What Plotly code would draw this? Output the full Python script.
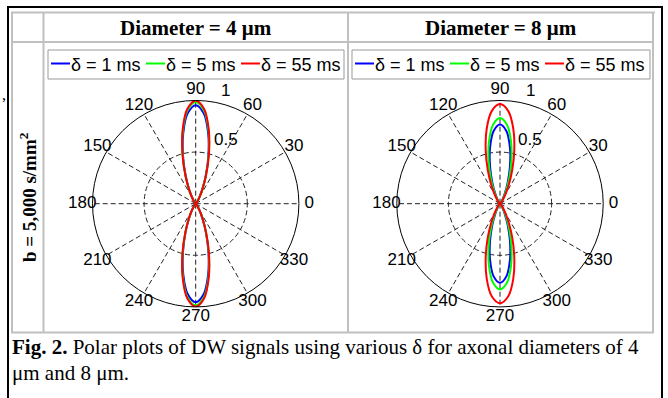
import plotly.graph_objects as go

W, H = 668, 398

def X(px):
    return px / W

def Y(py):
    return 1 - py / H

# ---------------- data ----------------
column_titles = ["Diameter = 4 μm", "Diameter = 8 μm"]
row_title = "b = 5,000 s/mm<sup>2</sup>"
series_names = ["δ = 1 ms", "δ = 5 ms", "δ = 55 ms"]
series_colors = ["#0000ff", "#00ff00", "#ff0000"]

theta_deg = list(range(0, 365, 5))          # 0 .. 360 deg, 73 samples
angular_ticks = [0, 30, 60, 90, 120, 150, 180, 210, 240, 270, 300, 330]
angular_ticktext = [str(a) for a in angular_ticks]
radial_grid = [0.5]
radial_labels = ["1", "0.5"]

# lobe values read at theta = 50, 55, ..., 130 deg (and 230 ... 310 deg)
d4_blue_lobe = [0.012, 0.030, 0.069, 0.146, 0.280, 0.473, 0.695, 0.881, 0.955,
                0.881, 0.695, 0.473, 0.280, 0.146, 0.069, 0.030, 0.012]
d4_green_lobe = [0.013, 0.031, 0.071, 0.151, 0.289, 0.488, 0.717, 0.909, 0.985,
                 0.909, 0.717, 0.488, 0.289, 0.151, 0.071, 0.031, 0.013]
d4_red_lobe = [0.013, 0.032, 0.072, 0.153, 0.293, 0.495, 0.728, 0.923, 0.998,
               0.923, 0.728, 0.495, 0.293, 0.153, 0.072, 0.032, 0.013]
d8_blue_lobe = [0.009, 0.022, 0.052, 0.111, 0.217, 0.372, 0.554, 0.707, 0.767,
                0.707, 0.554, 0.372, 0.217, 0.111, 0.052, 0.022, 0.009]
d8_green_lobe = [0.013, 0.031, 0.068, 0.139, 0.258, 0.425, 0.614, 0.769, 0.830,
                 0.769, 0.614, 0.425, 0.258, 0.139, 0.068, 0.031, 0.013]
d8_red_lobe = [0.025, 0.053, 0.107, 0.200, 0.345, 0.535, 0.740, 0.903, 0.965,
               0.903, 0.740, 0.535, 0.345, 0.200, 0.107, 0.053, 0.025]

caption_line1 = "<b>Fig. 2.</b> Polar plots of DW signals using various δ for axonal diameters of 4"
caption_line2 = "μm and 8 μm."


def full_curve(lobe):
    # zeros at 0-45, lobe 50-130, zeros 135-225, lobe 230-310, zeros 315-360
    return [0.0] * 10 + lobe + [0.0] * 19 + lobe + [0.0] * 10


sans = "Liberation Sans"
serif = "Liberation Serif"

R = 103.2          # plot radius in px
LABEL_R = 1.1      # MATLAB puts angle labels at 1.1 * rmax
centers = [(195.7, 203.7), (500.0, 203.7)]

panels = [
    ("polar", "polar3", [d4_blue_lobe, d4_green_lobe, d4_red_lobe]),
    ("polar2", "polar4", [d8_blue_lobe, d8_green_lobe, d8_red_lobe]),
]

fig = go.Figure()
for sub, labsub, lobes in panels:
    for name, color, lobe in zip(series_names, series_colors, lobes):
        fig.add_trace(go.Scatterpolar(
            r=full_curve(lobe), theta=theta_deg, mode="lines", name=name,
            line=dict(color=color, width=2, shape="spline", smoothing=1),
            subplot=sub, showlegend=False, hoverinfo="skip"))
    # angle labels, drawn on an overlaid (invisible) polar whose rim is at 1.1 * rmax
    fig.add_trace(go.Scatterpolar(
        r=[1] * len(angular_ticks), theta=angular_ticks, mode="text", text=angular_ticktext,
        textposition="middle center",
        textfont=dict(family=sans, size=17, color="black"),
        subplot=labsub, showlegend=False, cliponaxis=False, hoverinfo="skip"))


def polar_layout(cx, cy, rad):
    return dict(
        domain=dict(x=[X(cx - rad), X(cx + rad)], y=[Y(cy + rad), Y(cy - rad)]),
        bgcolor="white",
        radialaxis=dict(range=[0, 1], tickmode="array", tickvals=radial_grid,
                        showticklabels=False, ticks="", showline=False,
                        gridcolor="#222222", griddash="5px,3px", gridwidth=1),
        angularaxis=dict(rotation=0, direction="counterclockwise",
                         tickmode="array", tickvals=angular_ticks,
                         ticktext=angular_ticktext, ticks="", showticklabels=False,
                         showline=True, linecolor="black", linewidth=1,
                         gridcolor="#222222", griddash="5px,3px", gridwidth=1),
    )


def label_polar_layout(cx, cy, rad):
    return dict(
        domain=dict(x=[X(cx - rad), X(cx + rad)], y=[Y(cy + rad), Y(cy - rad)]),
        bgcolor="rgba(0,0,0,0)",
        radialaxis=dict(range=[0, 1], visible=False),
        angularaxis=dict(rotation=0, direction="counterclockwise", visible=False),
    )


shapes = []
grey = "#c0c0c0"
# outer black frame (top, left, right)
shapes.append(dict(type="line", xref="paper", yref="paper", x0=X(7), x1=X(663), y0=Y(7), y1=Y(7),
                   line=dict(color="black", width=2)))
shapes.append(dict(type="line", xref="paper", yref="paper", x0=X(8), x1=X(8), y0=Y(6), y1=Y(400),
                   line=dict(color="black", width=2)))
shapes.append(dict(type="line", xref="paper", yref="paper", x0=X(662), x1=X(662), y0=Y(6), y1=Y(400),
                   line=dict(color="black", width=2)))
# grey table grid
for (xa, ya, xb, yb) in [(11, 12.5, 655, 12.5), (12, 12, 12, 333), (653, 12, 653, 333),
                         (11, 332.5, 654, 332.5), (11, 42, 654, 42),
                         (43.5, 12, 43.5, 333), (348, 12, 348, 333)]:
    shapes.append(dict(type="line", xref="paper", yref="paper", x0=X(xa), x1=X(xb), y0=Y(ya), y1=Y(yb),
                       line=dict(color=grey, width=2)))

annotations = []
# headers
for title, cx in zip(column_titles, [195.5, 500.5]):
    annotations.append(dict(text="<b>" + title + "</b>", x=X(cx), y=Y(28), xref="paper", yref="paper",
                            xanchor="center", yanchor="middle", showarrow=False,
                            font=dict(family=serif, size=21, color="black")))
annotations.append(dict(text="<b>" + row_title + "</b>", x=X(28), y=Y(197), xref="paper", yref="paper",
                        xanchor="center", yanchor="middle", showarrow=False, textangle=-90,
                        font=dict(family=serif, size=19, color="black")))
annotations.append(dict(text=",", x=X(4), y=Y(95), xref="paper", yref="paper",
                        xanchor="center", yanchor="middle", showarrow=False,
                        font=dict(family=serif, size=16, color="black")))

# radial tick labels (MATLAB-style placement, right of the 82 deg spoke)
for cx, cy in centers:
    for lab, dx, dy in zip(radial_labels, [30, 30], [-113.5, -64]):
        annotations.append(dict(text=lab, x=X(cx + dx), y=Y(cy + dy), xref="paper", yref="paper",
                                xanchor="center", yanchor="middle", showarrow=False,
                                font=dict(family=sans, size=17, color="black")))

# custom legends
for bx0, bx1 in [(48, 344), (352, 650)]:
    shapes.append(dict(type="rect", xref="paper", yref="paper", x0=X(bx0), x1=X(bx1), y0=Y(50), y1=Y(79),
                       line=dict(color="#999999", width=1)))
    for i, (name, color) in enumerate(zip(series_names, series_colors)):
        lx = bx0 + 3 + 95 * i
        shapes.append(dict(type="line", xref="paper", yref="paper", x0=X(lx), x1=X(lx + 19),
                           y0=Y(63.5), y1=Y(63.5), line=dict(color=color, width=2)))
        annotations.append(dict(text=name, x=X(lx + 18), y=Y(65), xref="paper", yref="paper",
                                xanchor="left", yanchor="middle", showarrow=False,
                                font=dict(family=sans, size=18, color="black")))

# caption
annotations.append(dict(text=caption_line1, x=X(10), y=Y(347), xref="paper", yref="paper",
                        xanchor="left", yanchor="middle", showarrow=False,
                        font=dict(family=serif, size=21, color="black")))
annotations.append(dict(text=caption_line2, x=X(10), y=Y(373), xref="paper", yref="paper",
                        xanchor="left", yanchor="middle", showarrow=False,
                        font=dict(family=serif, size=21, color="black")))

fig.update_layout(
    width=W, height=H, autosize=False,
    margin=dict(l=0, r=0, t=0, b=0, pad=0),
    paper_bgcolor="white", plot_bgcolor="white",
    showlegend=False,
    polar=polar_layout(*centers[0], R),
    polar2=polar_layout(*centers[1], R),
    polar3=label_polar_layout(*centers[0], R * LABEL_R),
    polar4=label_polar_layout(*centers[1], R * LABEL_R),
    shapes=shapes, annotations=annotations,
)

fig.write_html("out.html", config={"displayModeBar": False},
               post_script="document.body.style.margin='0';")
